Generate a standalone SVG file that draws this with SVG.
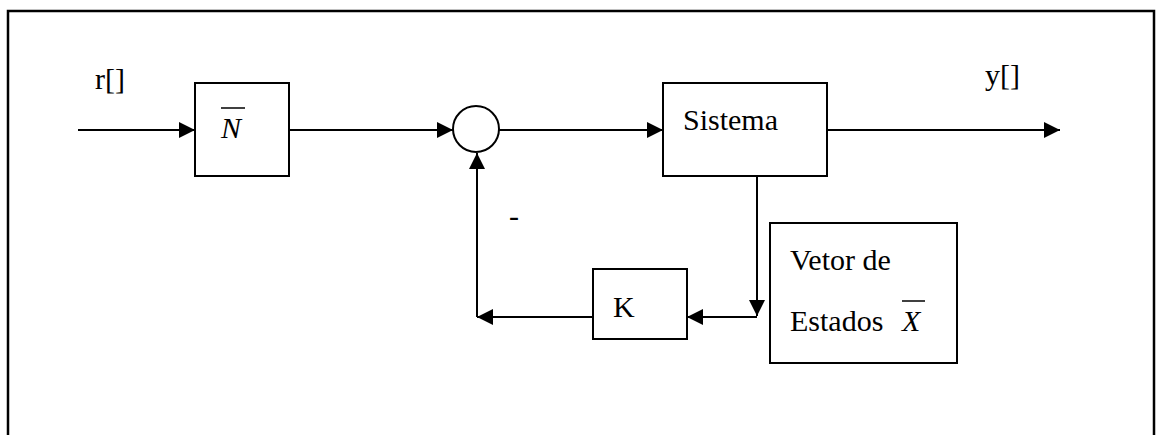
<svg xmlns="http://www.w3.org/2000/svg" width="1158" height="435" viewBox="0 0 1158 435">
<style>
.box{fill:#fff;stroke:#000;stroke-width:2}
.ln{fill:none;stroke:#000;stroke-width:2}
text{font-family:"Liberation Serif","Times New Roman",serif;font-size:30px;fill:#000}
.it{font-style:italic}
</style>
<defs>
<marker id="ah" markerWidth="16" markerHeight="16" viewBox="0 0 16 16" refX="16" refY="8" orient="auto" markerUnits="userSpaceOnUse">
<path d="M0,0 L16,8 L0,16 Z" fill="#000"/>
</marker>
</defs>
<rect width="1158" height="435" fill="#fff"/>
<path d="M8,445 V11 H1154 V445" fill="none" stroke="#000" stroke-width="2.5"/>
<g id="connectors">
<line class="ln" x1="78" y1="130" x2="195" y2="130" marker-end="url(#ah)"/>
<line class="ln" x1="289" y1="130" x2="453" y2="130" marker-end="url(#ah)"/>
<line class="ln" x1="499" y1="130" x2="663" y2="130" marker-end="url(#ah)"/>
<line class="ln" x1="827" y1="130" x2="1060" y2="130" marker-end="url(#ah)"/>
<line class="ln" x1="757" y1="176" x2="757" y2="316" marker-end="url(#ah)"/>
<line class="ln" x1="757" y1="317" x2="687" y2="317" marker-end="url(#ah)"/>
<line class="ln" x1="593" y1="317" x2="477" y2="317" marker-end="url(#ah)"/>
<line class="ln" x1="477" y1="317" x2="477" y2="153" marker-end="url(#ah)"/>
</g>
<g id="label-r"><text x="95" y="89">r[]</text></g>
<g id="label-y"><text x="985" y="85">y[]</text></g>
<g id="node-N">
<rect class="box" x="195" y="83" width="94" height="93"/>
<text class="it" x="221" y="138">N</text>
<line x1="221" y1="108" x2="245" y2="108" stroke="#000" stroke-width="1.5"/>
</g>
<g id="node-sum">
<circle class="box" cx="476" cy="129" r="23"/>
<text x="509" y="226">-</text>
</g>
<g id="node-sistema">
<rect class="box" x="663" y="83" width="164" height="93"/>
<text x="683" y="130">Sistema</text>
</g>
<g id="node-K">
<rect class="box" x="593" y="269" width="94" height="70"/>
<text x="613" y="317">K</text>
</g>
<g id="node-vetor">
<rect class="box" x="770" y="223" width="187" height="140"/>
<text x="790" y="270">Vetor de</text>
<text x="790" y="331">Estados</text>
<text class="it" x="902" y="331">X</text>
<line x1="902" y1="301" x2="925" y2="301" stroke="#000" stroke-width="1.5"/>
</g>
</svg>
